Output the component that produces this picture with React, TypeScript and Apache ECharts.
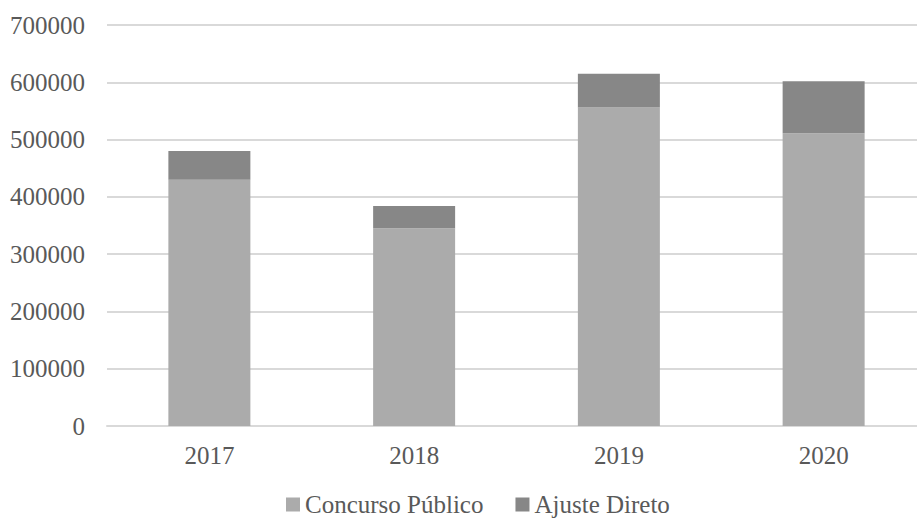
import React, { useEffect, useRef } from "react";
import * as echarts from "echarts";

const categories = ["2017", "2018", "2019", "2020"];
const concursoPublico = [430000, 345000, 556000, 511000];
const ajusteDireto = [50000, 39000, 59000, 91000];
const yTicks = [0, 100000, 200000, 300000, 400000, 500000, 600000, 700000];

export default function App() {
  const ref = useRef<HTMLDivElement>(null);
  useEffect(() => {
    if (!ref.current) return;
    const chart = echarts.init(ref.current, null, { renderer: "svg" });
    const font = "'Liberation Serif', 'Times New Roman', serif";
    chart.setOption({
      animation: false,
      backgroundColor: "#ffffff",
      grid: { left: 107, right: 4, top: 25, bottom: 92, containLabel: false },
      legend: {
        bottom: -4,
        left: 281,
        itemWidth: 14,
        itemHeight: 14,
        itemGap: 32,
        icon: "rect",
        textStyle: { fontFamily: font, fontSize: 25, color: "#595959" },
        data: ["Concurso Público", "Ajuste Direto"],
      },
      xAxis: {
        type: "category",
        data: categories,
        axisLine: { show: true, lineStyle: { color: "#d9d9d9", width: 2 } },
        axisTick: { show: false },
        axisLabel: { fontFamily: font, fontSize: 25, color: "#595959", margin: 17 },
      },
      yAxis: {
        type: "value",
        min: yTicks[0],
        max: yTicks[yTicks.length - 1],
        interval: 100000,
        axisLine: { show: false },
        axisTick: { show: false },
        splitLine: { lineStyle: { color: "#d9d9d9", width: 2 } },
        axisLabel: {
          fontFamily: font,
          fontSize: 25,
          color: "#595959",
          margin: 22,
          formatter: (v: number) => String(v),
        },
      },
      series: [
        {
          name: "Concurso Público",
          type: "bar",
          stack: "total",
          barWidth: 82,
          data: concursoPublico,
          itemStyle: { color: "#ababab" },
        },
        {
          name: "Ajuste Direto",
          type: "bar",
          stack: "total",
          barWidth: 82,
          data: ajusteDireto,
          itemStyle: { color: "#878787" },
        },
      ],
    });
    return () => chart.dispose();
  }, []);
  return (
    <div style={{ position: "fixed", left: 0, top: 0, width: 917, height: 518, overflow: "hidden", background: "#fff" }}>
      <div ref={ref} style={{ width: 930, height: 518 }} />
    </div>
  );
}
